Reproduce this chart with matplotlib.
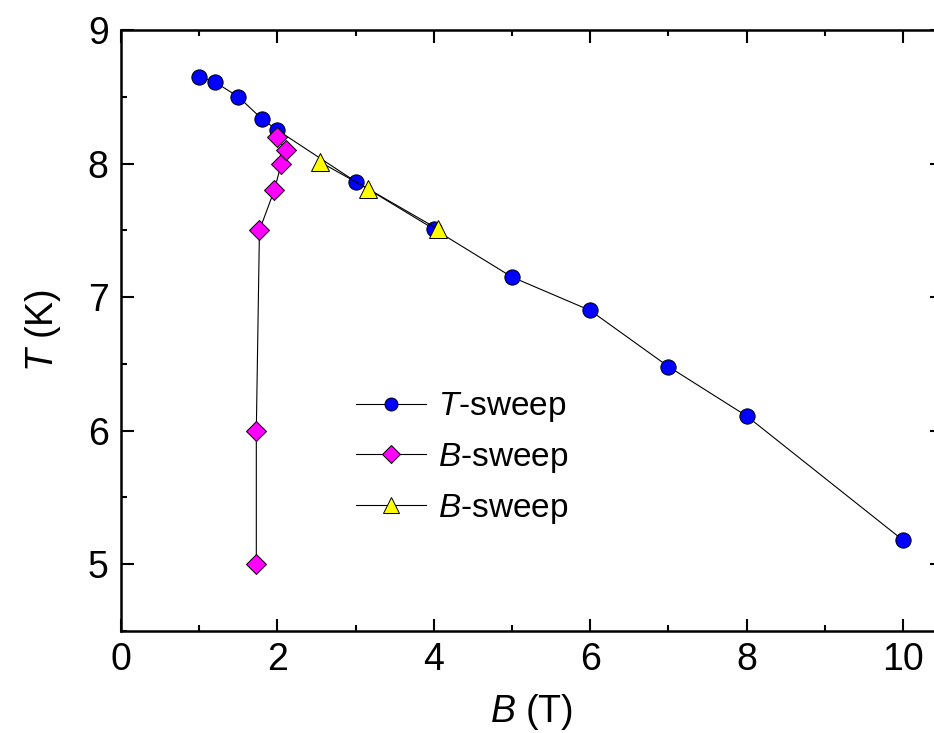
import matplotlib
matplotlib.use("Agg")
import matplotlib.pyplot as plt
from matplotlib.ticker import MultipleLocator

plt.rcParams['font.family'] = ['Liberation Sans', 'DejaVu Sans']
plt.rcParams['mathtext.fontset'] = 'custom'
plt.rcParams['mathtext.rm'] = 'Liberation Sans'
plt.rcParams['mathtext.it'] = 'Liberation Sans:italic'

# T-sweep (blue circles)
t_sweep_B = [1.0, 1.2, 1.5, 1.8, 2.0, 3.0, 4.0, 5.0, 6.0, 7.0, 8.0, 10.0]
t_sweep_T = [8.65, 8.61, 8.50, 8.335, 8.25, 7.865, 7.51, 7.15, 6.90, 6.48, 6.11, 5.18]

# B-sweep (magenta diamonds)
b_sweep1_B = [1.73, 1.73, 1.77, 1.96, 2.05, 2.11, 1.99]
b_sweep1_T = [5.0, 6.0, 7.5, 7.8, 8.0, 8.1, 8.2]

# B-sweep (yellow triangles)
b_sweep2_B = [2.55, 3.16, 4.05]
b_sweep2_T = [8.01, 7.81, 7.51]

fig = plt.figure(figsize=(9.34, 7.33), dpi=100)
ax = fig.add_axes([0.1296, 0.1392, 0.879, 0.8199])

ax.plot(t_sweep_B, t_sweep_T, '-o', color='black', lw=0.8, ms=11,
        mfc='#0000ff', mec='black', mew=0.7, label=r'$\mathit{T}$-sweep')
ax.plot(b_sweep1_B, b_sweep1_T, '-D', color='black', lw=0.8, ms=10.5,
        mfc='#ff00ff', mec='black', mew=0.7, label=r'$\mathit{B}$-sweep')
ax.plot(b_sweep2_B, b_sweep2_T, '-^', color='black', lw=0.8, ms=13.5,
        mfc='#ffff00', mec='black', mew=0.7, label=r'$\mathit{B}$-sweep')

ax.set_xlim(0, 10.5)
ax.set_ylim(4.5, 9)
ax.xaxis.set_major_locator(MultipleLocator(2))
ax.xaxis.set_minor_locator(MultipleLocator(1))
ax.yaxis.set_major_locator(MultipleLocator(1))
ax.yaxis.set_minor_locator(MultipleLocator(0.5))

ax.tick_params(which='both', direction='in', top=True, right=True, width=1.5)
ax.tick_params(which='major', length=9, labelsize=27)
ax.tick_params(axis='x', which='major', pad=8)
ax.tick_params(axis='y', which='major', pad=9)
ax.tick_params(which='minor', length=4.5)
for s in ax.spines.values():
    s.set_linewidth(1.8)

ax.set_xlabel(r'$\mathit{B}$ (T)', fontsize=27, labelpad=10)
ax.set_ylabel(r'$\mathit{T}$ (K)', fontsize=27, labelpad=18)

leg = ax.legend(loc='center left', bbox_to_anchor=(0.286, 0.288), frameon=False,
                fontsize=24, handlelength=2.1, handletextpad=0.35, labelspacing=0.5,
                borderpad=0, borderaxespad=0, markerscale=0.85)

fig.savefig('out.png', dpi=100)
